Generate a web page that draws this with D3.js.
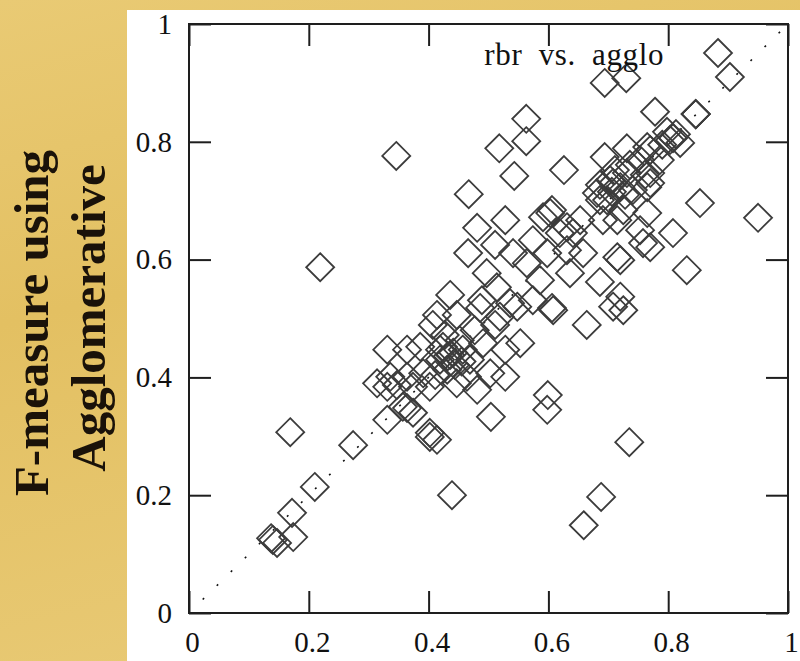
<!DOCTYPE html>
<html>
<head>
<meta charset="utf-8">
<script src="https://cdn.jsdelivr.net/npm/d3@7"></script>
<style>
  body { margin: 0; }
  svg { display: block; }
</style>
</head>
<body>
<div id="chart"></div>
<script>
// F-measure per run: x = rbr, y = agglomerative
const rbrF = [
  0.903, 0.846, 0.846, 0.846, 0.778, 0.808, 0.798, 0.820, 0.803, 0.813, 0.790,
  0.694, 0.730, 0.563, 0.563, 0.518, 0.346, 0.543, 0.467, 0.626, 0.694, 0.731,
  0.765, 0.753, 0.770, 0.731, 0.703, 0.681, 0.720, 0.698, 0.741, 0.765, 0.853,
  0.950, 0.808, 0.765, 0.753, 0.715, 0.691, 0.770, 0.720, 0.653, 0.641, 0.603,
  0.619, 0.598, 0.658, 0.831, 0.770, 0.708, 0.770, 0.725, 0.631, 0.715, 0.758,
  0.636, 0.686, 0.720, 0.631, 0.219, 0.481, 0.528, 0.591, 0.606, 0.466, 0.497,
  0.436, 0.414, 0.574, 0.541, 0.564, 0.586, 0.514, 0.489, 0.536, 0.574, 0.608,
  0.511, 0.407, 0.447, 0.486, 0.519, 0.548, 0.606, 0.664, 0.708, 0.725, 0.331,
  0.364, 0.386, 0.424, 0.457, 0.491, 0.528, 0.553, 0.336, 0.364, 0.391, 0.431,
  0.464, 0.503, 0.528, 0.331, 0.374, 0.402, 0.447, 0.481, 0.357, 0.374, 0.402,
  0.414, 0.504, 0.599, 0.598, 0.735, 0.439, 0.688, 0.659, 0.169, 0.274, 0.210,
  0.172, 0.174, 0.140, 0.147, 0.137, 0.331, 0.364, 0.314, 0.347, 0.402, 0.419,
  0.436, 0.444, 0.469, 0.411, 0.452, 0.427, 0.477, 0.511, 0.419, 0.711, 0.736,
  0.686, 0.786, 0.728, 0.761, 0.686, 0.706, 0.441, 0.455, 0.432
]
const aggloF = [
  0.910, 0.847, 0.847, 0.847, 0.851, 0.806, 0.817, 0.798, 0.803, 0.813, 0.795,
  0.900, 0.908, 0.839, 0.801, 0.789, 0.776, 0.742, 0.711, 0.752, 0.774, 0.789,
  0.791, 0.769, 0.747, 0.747, 0.735, 0.713, 0.723, 0.701, 0.718, 0.723, 0.696,
  0.671, 0.645, 0.679, 0.650, 0.667, 0.667, 0.621, 0.599, 0.667, 0.645, 0.679,
  0.645, 0.611, 0.611, 0.582, 0.786, 0.730, 0.730, 0.684, 0.655, 0.604, 0.628,
  0.577, 0.562, 0.537, 0.616, 0.587, 0.654, 0.667, 0.672, 0.684, 0.611, 0.577,
  0.540, 0.506, 0.633, 0.611, 0.594, 0.565, 0.553, 0.531, 0.526, 0.531, 0.514,
  0.625, 0.489, 0.506, 0.518, 0.503, 0.520, 0.518, 0.489, 0.520, 0.514, 0.447,
  0.447, 0.452, 0.452, 0.447, 0.458, 0.447, 0.458, 0.401, 0.401, 0.407, 0.413,
  0.401, 0.407, 0.401, 0.384, 0.384, 0.384, 0.390, 0.379, 0.350, 0.340, 0.306,
  0.294, 0.333, 0.370, 0.345, 0.290, 0.200, 0.197, 0.149, 0.307, 0.285, 0.214,
  0.170, 0.129, 0.124, 0.119, 0.127, 0.328, 0.348, 0.390, 0.387, 0.299, 0.430,
  0.438, 0.421, 0.430, 0.404, 0.463, 0.472, 0.480, 0.489, 0.447, 0.752, 0.761,
  0.727, 0.769, 0.710, 0.744, 0.701, 0.715, 0.442, 0.427, 0.436
]
const tickValues = [0, 0.2, 0.4, 0.6, 0.8, 1]
const tickLabels = ['0', '0.2', '0.4', '0.6', '0.8', '1']
const keyLabel = 'rbr vs. agglo'
const titleLines = ['F-measure using', 'Agglomerative']

const width = 800
const height = 661
const plot = { left: 189, right: 788, top: 24, bottom: 613 }
const ink = '#1e1e1e'
const labelFont = '"Liberation Serif", "Times New Roman", serif'

let svg = d3.select('#chart').append('svg')
    .attr('width', width)
    .attr('height', height)

// parchment background + white panel
let defs = svg.append('defs')
let grad = defs.append('linearGradient')
    .attr('id', 'gold')
    .attr('x1', 0).attr('y1', 0).attr('x2', 0.3).attr('y2', 1)
grad.append('stop').attr('offset', '0%').attr('stop-color', '#e9ca74')
grad.append('stop').attr('offset', '45%').attr('stop-color', '#e3c062')
grad.append('stop').attr('offset', '100%').attr('stop-color', '#e8c974')

svg.append('rect').attr('width', width).attr('height', height).attr('fill', 'url(#gold)')
svg.append('rect')
    .attr('x', 127).attr('y', 10)
    .attr('width', width - 127).attr('height', height - 10)
    .attr('fill', '#fff')

defs.append('clipPath').attr('id', 'clip')
  .append('rect')
    .attr('x', plot.left).attr('y', plot.top)
    .attr('width', plot.right - plot.left).attr('height', plot.bottom - plot.top)

let x = d3.scaleLinear().domain([0, 1]).range([plot.left, plot.right])
let y = d3.scaleLinear().domain([0, 1]).range([plot.bottom, plot.top])

// y = x reference, sparse dots
svg.append('line')
    .attr('clip-path', 'url(#clip)')
    .attr('x1', x(0)).attr('y1', y(0))
    .attr('x2', x(1)).attr('y2', y(1))
    .attr('stroke', '#111')
    .attr('stroke-width', 1.6)
    .attr('stroke-dasharray', '2 17.7')
    .attr('stroke-dashoffset', 0.5)

// points
let pts = d3.range(rbrF.length).map((i) => ({ x: rbrF[i], y: aggloF[i] }))
const r = 14
const diamond = (cx, cy) => `M${cx},${cy - r}L${cx + r},${cy}L${cx},${cy + r}L${cx - r},${cy}Z`

svg.append('g')
    .attr('clip-path', 'url(#clip)')
  .selectAll('path')
  .data(pts)
  .enter().append('path')
    .attr('d', (d) => diamond(x(d.x), y(d.y)))
    .attr('fill', 'none')
    .attr('stroke', '#3c3c3c')
    .attr('stroke-width', 1.8)

// axes, inward ticks on all sides
const fmt = (d) => tickLabels[tickValues.indexOf(d)]
let axisB = d3.axisBottom(x).tickValues(tickValues).tickFormat(fmt).tickSizeInner(-22).tickSizeOuter(0).tickPadding(18)
let axisL = d3.axisLeft(y).tickValues(tickValues).tickFormat(fmt).tickSizeInner(-22).tickSizeOuter(0).tickPadding(17)
let axisT = d3.axisTop(x).tickValues(tickValues).tickFormat('').tickSizeInner(-22).tickSizeOuter(0)
let axisR = d3.axisRight(y).tickValues(tickValues).tickFormat('').tickSizeInner(-22).tickSizeOuter(0)

function styleAxis (g) {
  g.select('.domain').remove()
  g.selectAll('.tick line').attr('stroke', ink).attr('stroke-width', 2)
  g.selectAll('text')
      .attr('fill', '#111')
      .style('font-family', labelFont)
      .style('font-size', '29px')
}

svg.append('g').attr('transform', `translate(0,${plot.bottom})`).call(axisB).call(styleAxis)
    .selectAll('text').attr('dx', 3)
svg.append('g').attr('transform', `translate(${plot.left},0)`).call(axisL).call(styleAxis)
svg.append('g').attr('transform', `translate(0,${plot.top})`).call(axisT).call(styleAxis)
svg.append('g').attr('transform', `translate(${plot.right},0)`).call(axisR).call(styleAxis)

svg.append('rect')
    .attr('x', plot.left).attr('y', plot.top)
    .attr('width', plot.right - plot.left).attr('height', plot.bottom - plot.top)
    .attr('fill', 'none')
    .attr('stroke', ink)
    .attr('stroke-width', 2)

// key
svg.append('text')
    .attr('x', 664).attr('y', 65)
    .attr('text-anchor', 'end')
    .attr('fill', '#111')
    .style('font-family', labelFont)
    .style('font-size', '31px')
    .style('word-spacing', '8px')
    .style('letter-spacing', '0.6px')
    .text(keyLabel)
svg.append('path')
    .attr('d', diamond(718, 53))
    .attr('fill', 'none')
    .attr('stroke', '#3c3c3c')
    .attr('stroke-width', 1.8)

// rotated y title on the gold strip
svg.selectAll('.ytitle')
  .data(titleLines)
  .enter().append('text')
    .attr('class', 'ytitle')
    .attr('transform', (d, i) => `translate(${i === 0 ? 48 : 105},${i === 0 ? 323 : 318}) rotate(-90)`)
    .attr('text-anchor', 'middle')
    .attr('fill', '#1a1209')
    .style('font-family', labelFont)
    .style('font-weight', 'bold')
    .style('font-size', '49px')
    .text((d) => d)
</script>
</body>
</html>
